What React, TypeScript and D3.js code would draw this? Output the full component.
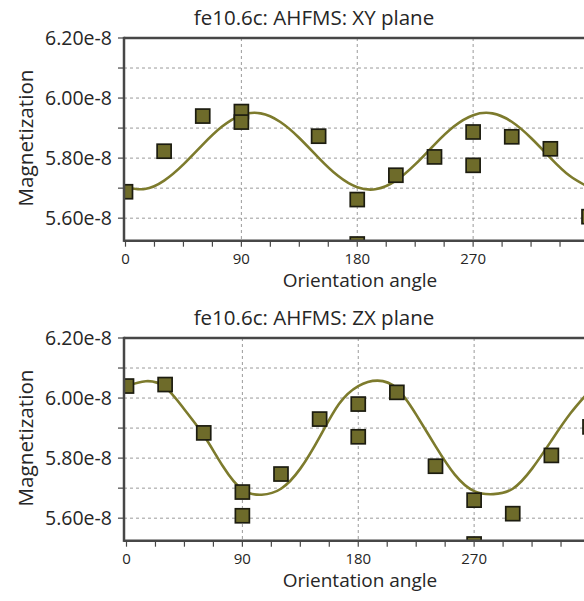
import React from "react";
import * as d3 from "d3";

// measured points (angle in degrees, magnetization in 1e-8 units)
const xyAngles = [0, 30, 60, 90, 90, 150, 180, 180, 210, 240, 270, 270, 300, 330, 360];
const xyValues = [5.688, 5.823, 5.94, 5.955, 5.92, 5.873, 5.662, 5.514, 5.743, 5.804, 5.887, 5.776, 5.871, 5.831, 5.605];

const zxAngles = [0, 30, 60, 90, 90, 120, 150, 180, 180, 210, 240, 270, 270, 300, 330, 360];
const zxValues = [6.04, 6.045, 5.884, 5.687, 5.608, 5.747, 5.93, 5.98, 5.871, 6.019, 5.773, 5.66, 5.514, 5.615, 5.809, 5.904];

const fitAngles = [0, 15, 30, 45, 60, 75, 90, 105, 120, 135, 150, 165, 180, 195, 210, 225, 240, 255, 270, 285, 300, 315, 330, 345, 360];
const xyFit = [5.703, 5.697, 5.725, 5.779, 5.845, 5.905, 5.943, 5.949, 5.921, 5.867, 5.801, 5.741, 5.703, 5.697, 5.725, 5.779, 5.845, 5.905, 5.943, 5.949, 5.921, 5.867, 5.801, 5.741, 5.703];
const zxFit = [6.04, 6.056, 6.036, 5.962, 5.876, 5.772, 5.695, 5.678, 5.698, 5.765, 5.87, 5.98, 6.04, 6.058, 6.032, 5.945, 5.84, 5.745, 5.69, 5.68, 5.698, 5.765, 5.858, 5.95, 6.025];

const yTicks = [5.6, 5.8, 6.0, 6.2];
const yMinor = [5.7, 5.9, 6.1];
const xTicks = [0, 90, 180, 270];
const xMinor = [22.5, 45, 67.5, 112.5, 135, 157.5, 202.5, 225, 247.5, 292.5, 315, 337.5];

const FONT = "'Open Sans', 'Noto Sans', sans-serif";
const OLIVE = "#7d7b2d";
const AXIS = "#474747";
const GRID = "#9a9a9a";
const TXT = "#262626";

function Panel({ title, angles, values, fit, dy, dx, id }) {
  const left = 124;
  const top = 38 + dy;
  const bottom = 240.7 + dy;
  const x = d3.scaleLinear().domain([0, 360]).range([125.5 + dx, 589 + dx]);
  const y = d3.scaleLinear().domain([5.525, 6.2]).range([bottom, top]);
  const line = d3
    .line()
    .x((d) => x(d[0]))
    .y((d) => y(d[1]))
    .curve(d3.curveNatural);
  const pts = fitAngles.map((a, i) => [a, fit[i]]);
  const sq = 14;

  return (
    <g>
      <defs>
        <clipPath id={id}>
          <rect x={left} y={top} width={600} height={bottom - top} />
        </clipPath>
      </defs>
      <text x={314} y={25 + dy} textAnchor="middle" fontSize={20.5} fontFamily={FONT} fill={TXT}>
        {title}
      </text>
      {/* grid */}
      {yTicks.concat(yMinor).map((v) => (
        <line key={"gy" + v} x1={left} x2={600} y1={y(v)} y2={y(v)} stroke={GRID} strokeWidth={1} strokeDasharray="3,3" />
      ))}
      {xTicks.slice(1).map((v) => (
        <line key={"gx" + v} x1={x(v)} x2={x(v)} y1={top} y2={bottom} stroke={GRID} strokeWidth={1} strokeDasharray="3,3" />
      ))}
      <g clipPath={`url(#${id})`}>
        <path d={line(pts)} fill="none" stroke={OLIVE} strokeWidth={2.6} />
        {angles.map((a, i) => (
          <rect
            key={i}
            x={x(a) - sq / 2}
            y={y(values[i]) - sq / 2}
            width={sq}
            height={sq}
            fill="#6e6b2a"
            stroke="#1c1c10"
            strokeWidth={1.7}
          />
        ))}
      </g>
      {/* axes */}
      <line x1={left} x2={600} y1={top} y2={top} stroke={AXIS} strokeWidth={2.5} />
      <line x1={left} x2={600} y1={bottom} y2={bottom} stroke={AXIS} strokeWidth={2.5} />
      <line x1={left} x2={left} y1={top - 1.2} y2={bottom + 1.2} stroke={AXIS} strokeWidth={2.5} />
      {yTicks.concat(yMinor).map((v) => (
        <line key={"ty" + v} x1={left - 6} x2={left} y1={y(v)} y2={y(v)} stroke={AXIS} strokeWidth={1.2} />
      ))}
      {xTicks.concat(xMinor).map((v) => (
        <line key={"tx" + v} x1={x(v)} x2={x(v)} y1={bottom} y2={bottom + 6} stroke={AXIS} strokeWidth={1.2} />
      ))}
      {yTicks.map((v) => (
        <text key={"ly" + v} x={112} y={y(v) + 7} textAnchor="end" fontSize={19.5} fontFamily={FONT} fill={TXT}>
          {v.toFixed(2) + "e-8"}
        </text>
      ))}
      {xTicks.map((v) => (
        <text key={"lx" + v} x={x(v)} y={bottom + 23.5} textAnchor="middle" fontSize={15} fontFamily={FONT} fill={TXT}>
          {v}
        </text>
      ))}
      <text x={360} y={bottom + 46} textAnchor="middle" fontSize={19} fontFamily={FONT} fill={TXT}>
        Orientation angle
      </text>
      <text
        transform={`translate(33,${138 + dy}) rotate(-90)`}
        textAnchor="middle"
        fontSize={19.5}
        fontFamily={FONT}
        fill={TXT}
        textLength={137}
        lengthAdjust="spacingAndGlyphs"
      >
        Magnetization
      </text>
    </g>
  );
}

export default function App() {
  return (
    <svg
      width={584}
      height={601}
      style={{ position: "absolute", left: 0, top: 0, background: "#fff" }}
    >
      <rect width={584} height={601} fill="#fff" />
      <Panel id="c1" title="fe10.6c: AHFMS: XY plane" angles={xyAngles} values={xyValues} fit={xyFit} dy={0} dx={0} />
      <Panel id="c2" title="fe10.6c: AHFMS: ZX plane" angles={zxAngles} values={zxValues} fit={zxFit} dy={300} dx={1} />
    </svg>
  );
}
